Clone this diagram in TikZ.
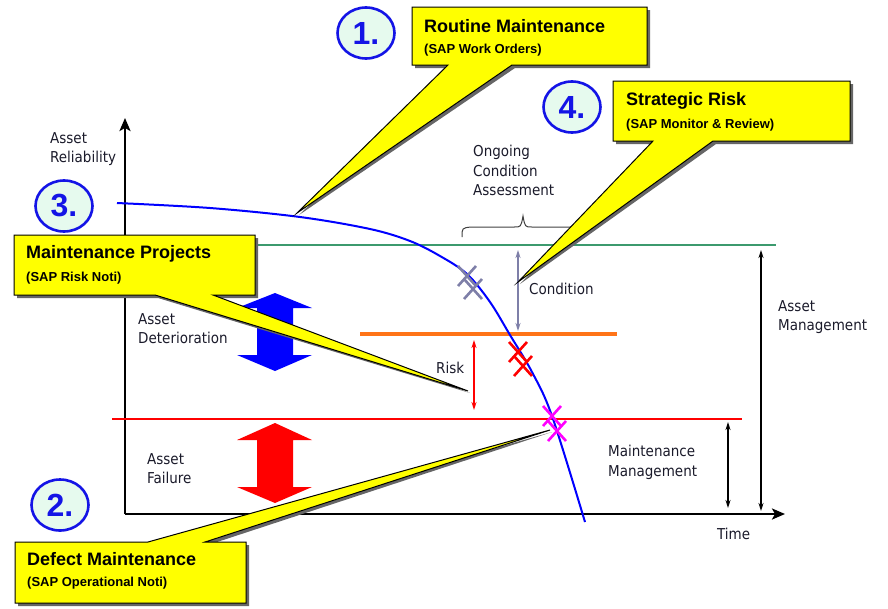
\documentclass[tikz,border=0pt]{standalone}
\usepackage{fontspec}
\setmainfont{Liberation Sans}
\newfontfamily\labelfont{DejaVu Sans Condensed}
\usetikzlibrary{arrows.meta,shapes.geometric}

\definecolor{calloutyellow}{HTML}{FFFF00}
\definecolor{ringblue}{HTML}{1414E6}
\definecolor{ringfill}{HTML}{E6FAEE}
\definecolor{curveblue}{HTML}{0000FF}
\definecolor{levelgreen}{HTML}{3C9A6E}
\definecolor{levelorange}{HTML}{FF7418}
\definecolor{levelred}{HTML}{FF0000}
\definecolor{slate}{HTML}{7E7FA8}
\definecolor{markpink}{HTML}{FF00FF}
\definecolor{labeltext}{HTML}{1A1A2A}
\definecolor{bracegray}{HTML}{404040}

% callout with its pointer leaving the bottom edge
% #1 #2 #3 #4 = box left, top, right, bottom; #5 #6 = pointer base; #7 #8 = pointer tip
\newcommand{\calloutdown}[8]{%
  \fill[calloutshadow] (#1+3,#2+3) -- (#3+3,#2+3) -- (#3+3,#4+3) -- (#6+3,#4+3) -- (#7+2,#8+2) -- (#5+3,#4+3) -- (#1+3,#4+3) -- cycle;
  \draw[callout] (#1,#2) -- (#3,#2) -- (#3,#4) -- (#6,#4) -- (#7,#8) -- (#5,#4) -- (#1,#4) -- cycle;}
% callout with its pointer leaving the top edge
\newcommand{\calloutup}[8]{%
  \fill[calloutshadow] (#1+3,#2+3) -- (#5+3,#2+3) -- (#7+2,#8+2) -- (#6+3,#2+3) -- (#3+3,#2+3) -- (#3+3,#4+3) -- (#1+3,#4+3) -- cycle;
  \draw[callout] (#1,#2) -- (#5,#2) -- (#7,#8) -- (#6,#2) -- (#3,#2) -- (#3,#4) -- (#1,#4) -- cycle;}

\tikzset{
  lbl/.style={font=\labelfont\fontsize{15}{19.5}\selectfont, text=labeltext, align=left, inner sep=0pt, anchor=north west},
  ctitle/.style={font=\bfseries\fontsize{18}{20}\selectfont, anchor=base west, inner sep=0pt},
  csub/.style={font=\bfseries\fontsize{13}{14}\selectfont, anchor=base west, inner sep=0pt},
  ring/.style={ellipse, draw=ringblue, line width=2.6pt, fill=ringfill, minimum width=57pt, minimum height=51pt, inner sep=0pt, text=ringblue, font=\bfseries\fontsize{32}{32}\selectfont},
  callout/.style={fill=calloutyellow, draw=black, line width=1pt, line join=miter, miter limit=30},
  calloutshadow/.style={fill=black!60},
  level/.style={line width=2pt},
  axis/.style={line width=2.4pt, -{Stealth[length=13pt,width=11pt,inset=3pt]}},
  dimarrow/.style={line width=1.4pt, {Stealth[length=8pt,width=5pt]}-{Stealth[length=8pt,width=5pt]}},
  crossmark/.pic={\draw[line width=2.6pt] (-9,-10) -- (9,10) (-9,10) -- (9,-10);}
}

\begin{document}
\begin{tikzpicture}[x=1pt,y=-1pt]
\useasboundingbox (0,0) rectangle (888,608);

% axes
\coordinate (origin) at (125,514);
\coordinate (ytip) at (125,118);
\coordinate (xtip) at (785,514);
\draw[axis] (origin) -- (ytip);
\draw[axis] (origin) -- (xtip);

% threshold levels
\coordinate (greenL) at (125,245);  \coordinate (greenR) at (776,245);
\coordinate (orangeL) at (360,334); \coordinate (orangeR) at (617,334);
\coordinate (redL) at (112,419);    \coordinate (redR) at (742,419);
\draw[level, levelgreen, line width=2pt] (greenL) -- (greenR);
\draw[level, levelorange, line width=3.5pt] (orangeL) -- (orangeR);
\draw[level, levelred] (redL) -- (redR);

% reliability curve
\draw[curveblue, line width=2pt] plot[smooth, tension=0.55] coordinates
  {(117,203) (210,208) (300,217) (370,229) (410,241) (440,256) (467,274) (490,302) (510,335) (532,372) (552,416) (585,522)};

% failure points on the curve
\pic[slate] at (467,276) {crossmark};
\pic[slate] at (473,289) {crossmark};
\pic[levelred] at (518,352) {crossmark};
\pic[levelred] at (523,366) {crossmark};
\pic[markpink] at (552,416) {crossmark};
\pic[markpink] at (557,431) {crossmark};

% thin double arrows
\coordinate (condT) at (518,250); \coordinate (condB) at (518,331);
\coordinate (riskT) at (474,340); \coordinate (riskB) at (474,410);
\coordinate (amT) at (761,250);   \coordinate (amB) at (761,511);
\coordinate (mmT) at (728,422);   \coordinate (mmB) at (728,508);
\draw[dimarrow, slate] (condT) -- (condB);
\draw[dimarrow, levelred] (riskT) -- (riskB);
\draw[dimarrow, black] (amT) -- (amB);
\draw[dimarrow, black] (mmT) -- (mmB);

% block double arrows
\fill[curveblue] (275,293) -- (312,308) -- (293,308) -- (293,355) -- (312,355) -- (275,371)
  -- (237,355) -- (257,355) -- (257,308) -- (237,308) -- cycle;
\fill[levelred] (275,423) -- (312,440) -- (293,440) -- (293,487) -- (312,487) -- (275,503)
  -- (237,487) -- (257,487) -- (257,440) -- (237,440) -- cycle;

% brace over the monitored span
\draw[bracegray, line width=1pt] (462,237) .. controls (462,228) .. (471,227) -- (514,227)
  .. controls (521,227) .. (523,216) .. controls (525,227) .. (532,227) -- (572,227)
  .. controls (581,228) .. (581,237);

% labels
\node[lbl] (reliab) at (50,132) {Asset\\Reliability};
\node[lbl] (time) at (717,528) {Time};
\node[lbl] (assetmgmt) at (778,300) {Asset\\Management};
\node[lbl] (maintmgmt) at (608,445) {Maintenance\\Management};
\node[lbl] (cond) at (529,283) {Condition};
\node[lbl] (risk) at (436,362) {Risk};
\node[lbl] (deter) at (138,313) {Asset\\Deterioration};
\node[lbl] (fail) at (147,453) {Asset\\Failure};
\node[lbl] (ongoing) at (473,145) {Ongoing\\Condition\\Assessment};

% callouts
\coordinate (tipA) at (297,213);
\coordinate (tipB) at (518,282);
\coordinate (tipC) at (468,391);
\coordinate (tipD) at (550,430);
\calloutdown{412}{7}{647}{65}{448}{512}{297}{213}
\calloutdown{613}{81}{850}{141}{653}{713}{518}{282}
\calloutdown{14}{235}{255}{295}{155}{213}{468}{391}
\calloutup{15}{542}{246}{603}{148}{205}{550}{430}

\node[ctitle] (routine) at (424,32) {Routine Maintenance};
\node[csub] (routinesub) at (424,53) {(SAP Work Orders)};
\node[ctitle] (strategic) at (626,105) {Strategic Risk};
\node[csub] (strategicsub) at (626,128) {(SAP Monitor \& Review)};
\node[ctitle] (projects) at (26,258) {Maintenance Projects};
\node[csub] (projectssub) at (26,281) {(SAP Risk Noti)};
\node[ctitle] (defect) at (27,565) {Defect Maintenance};
\node[csub] (defectsub) at (27,586) {(SAP Operational Noti)};

% numbered rings
\node[ring] (one) at (366,33) {1.};
\node[ring] (four) at (572,107) {4.};
\node[ring] (three) at (64,206) {3.};
\node[ring] (two) at (60,505) {2.};
\end{tikzpicture}
\end{document}
